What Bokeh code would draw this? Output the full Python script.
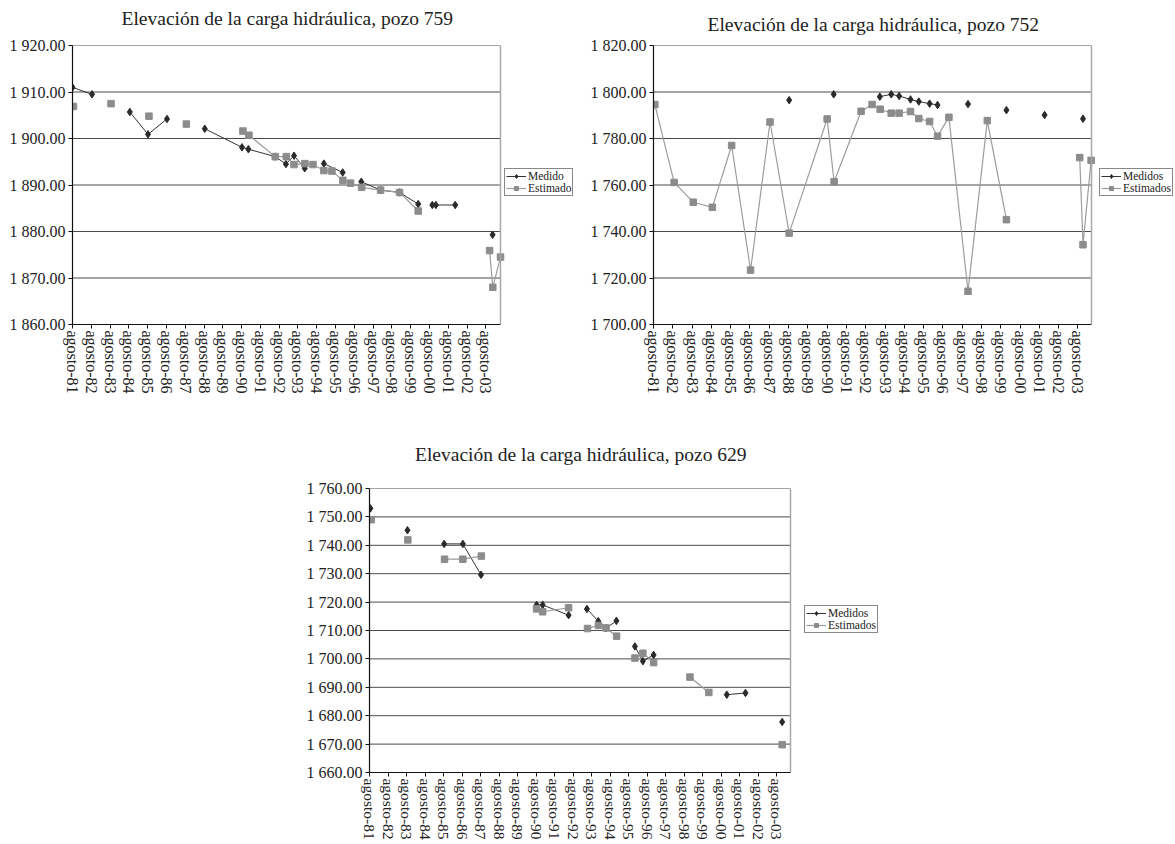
import numpy as np
from bokeh.plotting import figure
from bokeh.models import FixedTicker, Range1d, Legend, LegendItem, Title, Span
from bokeh.layouts import column, row
from bokeh.embed import file_html
from bokeh.resources import INLINE

FONT = "Liberation Serif"

# ---------------- shared x axis (years, ticks every August) ----------------
tick_years = [1981.58, 1982.58, 1983.58, 1984.58, 1985.58, 1986.58, 1987.58, 1988.58,
              1989.58, 1990.58, 1991.58, 1992.58, 1993.58, 1994.58, 1995.58, 1996.58,
              1997.58, 1998.58, 1999.58, 2000.58, 2001.58, 2002.58, 2003.58]
tick_labels = ["agosto-81", "agosto-82", "agosto-83", "agosto-84", "agosto-85", "agosto-86",
               "agosto-87", "agosto-88", "agosto-89", "agosto-90", "agosto-91", "agosto-92",
               "agosto-93", "agosto-94", "agosto-95", "agosto-96", "agosto-97", "agosto-98",
               "agosto-99", "agosto-00", "agosto-01", "agosto-02", "agosto-03"]

# ---------------- pozo 759 ----------------
m759_x = [1981.58, 1982.62, None, 1984.63, 1985.60, 1986.61, None, 1988.62, 1990.60, 1990.94,
          1992.37, 1992.94, 1993.37, 1993.94, None, 1994.96, 1995.96, None, 1996.95, 1997.98,
          1998.99, 1999.98, None, 2000.73, 2000.92, 2001.95, None, 2003.94]
m759_y = [1911.0, 1909.5, None, 1905.7, 1900.9, 1904.2, None, 1902.1, 1898.1, 1897.7,
          1896.1, 1894.5, 1896.3, 1893.6, None, 1894.6, 1892.7, None, 1890.7, 1888.9,
          1888.4, 1885.9, None, 1885.7, 1885.7, 1885.7, None, 1879.3]
e759_x = [1981.63, None, 1983.63, None, 1985.65, None, 1987.64, None, 1990.65, 1990.97,
          1992.37, 1992.96, 1993.37, 1993.95, 1994.38, 1994.96, 1995.39, 1995.97, 1996.38,
          1996.97, 1997.98, 1998.99, 1999.98, None, 2003.78, 2003.95, 2004.36]
e759_y = [1906.9, None, 1907.5, None, 1904.8, None, 1903.1, None, 1901.6, 1900.7,
          1896.1, 1896.1, 1894.4, 1894.6, 1894.4, 1893.1, 1893.0, 1891.0, 1890.4,
          1889.5, 1888.9, 1888.4, 1884.4, None, 1875.9, 1868.0, 1874.5]
y759_ticks = [1860, 1870, 1880, 1890, 1900, 1910, 1920]
y759_labels = ["1 860.00", "1 870.00", "1 880.00", "1 890.00", "1 900.00", "1 910.00", "1 920.00"]

# ---------------- pozo 752 ----------------
m752_x = [1988.61, None, 1990.92, None, 1993.31, 1993.90, 1994.31, 1994.90, 1995.33, 1995.89,
          1996.30, None, 1997.88, None, 1999.87, None, 2001.85, None, 2003.84]
m752_y = [1796.5, None, 1799.0, None, 1798.0, 1799.0, 1798.3, 1796.8, 1795.9, 1795.0,
          1794.4, None, 1794.8, None, 1792.2, None, 1790.1, None, 1788.5]
e752_x = [1981.65, 1982.65, 1983.64, 1984.63, 1985.63, 1986.61, 1987.62, 1988.61, 1990.58,
          1990.94, 1992.34, 1992.91, 1993.33, 1993.90, 1994.31, 1994.90, 1995.33, 1995.89,
          1996.30, 1996.89, 1997.88, 1998.88, 1999.87, None, 2003.67, 2003.84, 2004.26]
e752_y = [1794.6, 1761.1, 1752.6, 1750.4, 1777.0, 1723.4, 1787.1, 1739.3, 1788.4,
          1761.4, 1791.7, 1794.6, 1792.6, 1790.9, 1790.9, 1791.6, 1788.6, 1787.3,
          1781.0, 1789.1, 1714.3, 1787.7, 1745.1, None, 1771.8, 1734.3, 1770.6]
y752_ticks = [1700, 1720, 1740, 1760, 1780, 1800, 1820]
y752_labels = ["1 700.00", "1 720.00", "1 740.00", "1 760.00", "1 780.00", "1 800.00", "1 820.00"]

# ---------------- pozo 629 ----------------
m629_x = [1981.63, None, 1983.63, None, 1985.61, 1986.62, 1987.60, None, 1990.60, 1990.93,
          1992.33, None, 1993.32, 1993.93, 1994.35, 1994.91, None, 1995.91, 1996.34, 1996.92,
          None, 2000.87, 2001.88, None, 2003.86]
m629_y = [1753.0, None, 1745.3, None, 1740.5, 1740.5, 1729.6, None, 1719.0, 1719.0,
          1715.4, None, 1717.6, 1713.3, 1710.8, 1713.4, None, 1704.4, 1699.2, 1701.4,
          None, 1687.4, 1688.0, None, 1677.8]
e629_x = [1981.67, None, 1983.65, None, 1985.63, 1986.62, 1987.62, None, 1990.60, 1990.93,
          1992.33, None, 1993.35, 1993.94, 1994.35, 1994.92, None, 1995.91, 1996.34, 1996.92,
          None, 1998.88, 1999.90, None, 2003.86]
e629_y = [1749.0, None, 1741.9, None, 1735.1, 1735.1, 1736.2, None, 1717.6, 1716.6,
          1718.0, None, 1710.7, 1711.8, 1710.9, 1708.0, None, 1700.3, 1702.0, 1698.7,
          None, 1693.6, 1688.2, None, 1669.8]
y629_ticks = [1660, 1670, 1680, 1690, 1700, 1710, 1720, 1730, 1740, 1750, 1760]
y629_labels = ["1 660.00", "1 670.00", "1 680.00", "1 690.00", "1 700.00", "1 710.00",
               "1 720.00", "1 730.00", "1 740.00", "1 750.00", "1 760.00"]

M_COLOR = "#2a2a2a"
E_COLOR = "#8c8c8c"


def arr(v):
    return np.array([np.nan if a is None else a for a in v], dtype=float)


def make_chart(title, mx, my, ex, ey, yticks, ylabels, xend, names,
               w, h, bl, bt, bb, data_px, spacer, leg_loc, xfs="16px"):
    br = 2
    frame_px = w - bl - br
    x0 = tick_years[0]
    # the frame is widened to the right so that the legend can sit beside the data area
    x_far = x0 + (xend - x0) * frame_px / data_px
    p = figure(output_backend="svg", toolbar_location=None,
               width=w, height=h, title_location=None,
               min_border_left=bl, min_border_right=br,
               min_border_top=bt, min_border_bottom=bb,
               x_range=Range1d(x0, x_far),
               y_range=Range1d(yticks[0], yticks[-1]))

    p.outline_line_color = None
    p.background_fill_color = "white"
    p.border_fill_color = "white"
    p.xgrid.visible = False
    p.ygrid.visible = False

    # horizontal grid lines limited to the data area
    n = len(yticks)
    p.segment(x0=[x0] * n, x1=[xend] * n, y0=yticks, y1=yticks,
              line_color="#4a4a4a", line_width=1)
    p.add_layout(Span(location=xend, dimension="height", line_color="#a8a8a8", line_width=1.5))

    p.yaxis.ticker = FixedTicker(ticks=yticks)
    p.yaxis.major_label_overrides = dict(zip(yticks, ylabels))
    p.xaxis.ticker = FixedTicker(ticks=tick_years)
    p.xaxis.major_label_overrides = dict(zip(tick_years, tick_labels))
    p.xaxis.major_label_orientation = "vertical"
    p.xaxis.bounds = (x0, xend)

    for ax in (p.xaxis[0], p.yaxis[0]):
        ax.axis_line_color = "#111111"
        ax.axis_line_width = 1.2
        ax.major_tick_line_color = "#111111"
        ax.major_tick_out = 4
        ax.major_tick_in = 0
        ax.minor_tick_line_color = None
        ax.major_label_text_font = FONT
        ax.major_label_text_color = "#222222"
        ax.major_label_standoff = 3
    p.yaxis.major_label_text_font_size = "16px"
    p.xaxis.major_label_text_font_size = xfs
    p.xaxis.major_label_standoff = 2

    lm = p.line(arr(mx), arr(my), line_color="#333333", line_width=1)
    sm = p.scatter(arr(mx), arr(my), marker="diamond", size=7.5,
                   fill_color=M_COLOR, line_color=M_COLOR)
    le = p.line(arr(ex), arr(ey), line_color="#9c9c9c", line_width=1.2)
    se = p.scatter(arr(ex), arr(ey), marker="square", size=6.5,
                   fill_color=E_COLOR, line_color=E_COLOR)

    # spacer between frame and title, then the title itself (centred over the data area)
    p.add_layout(Title(text=" ", text_font_size="1px", standoff=spacer), "above")
    p.add_layout(Title(text=title, align="left", offset=data_px / 2 - 165,
                       text_font=FONT, text_font_size="19.5px",
                       text_font_style="normal", text_color="#222222", standoff=10), "above")

    legend = Legend(items=[LegendItem(label=names[0], renderers=[lm, sm]),
                           LegendItem(label=names[1], renderers=[le, se])],
                    location=leg_loc)
    legend.border_line_color = "#111111"
    legend.border_line_width = 1
    legend.background_fill_color = "white"
    legend.background_fill_alpha = 1
    legend.label_text_font = FONT
    legend.label_text_font_size = "11.5px"
    legend.label_text_color = "#222222"
    legend.padding = 1
    legend.spacing = 0
    legend.margin = 0
    legend.glyph_height = 10
    legend.glyph_width = 20
    legend.label_height = 10
    legend.label_standoff = 2
    p.add_layout(legend)
    return p


p1 = make_chart("Elevación de la carga hidráulica, pozo 759",
                m759_x, m759_y, e759_x, e759_y, y759_ticks, y759_labels, 2004.36,
                ["Medido", "Estimado"],
                w=583, h=402, bl=72, bt=44, bb=75, data_px=428, spacer=9, leg_loc=(432, 128))
p2 = make_chart("Elevación de la carga hidráulica, pozo 752",
                m752_x, m752_y, e752_x, e752_y, y752_ticks, y752_labels, 2004.28,
                ["Medidos", "Estimados"],
                w=592, h=402, bl=70, bt=38, bb=78, data_px=438, spacer=3, leg_loc=(446, 128))
p3 = make_chart("Elevación de la carga hidráulica, pozo 629",
                m629_x, m629_y, e629_x, e629_y, y629_ticks, y629_labels, 2004.31,
                ["Medidos", "Estimados"],
                w=890, h=441, bl=369, bt=86, bb=71, data_px=421, spacer=16, leg_loc=(435, 139),
                xfs="15.5px")

layout = column(row(p1, p2), p3)
open("out.html", "w").write(file_html(layout, INLINE))
